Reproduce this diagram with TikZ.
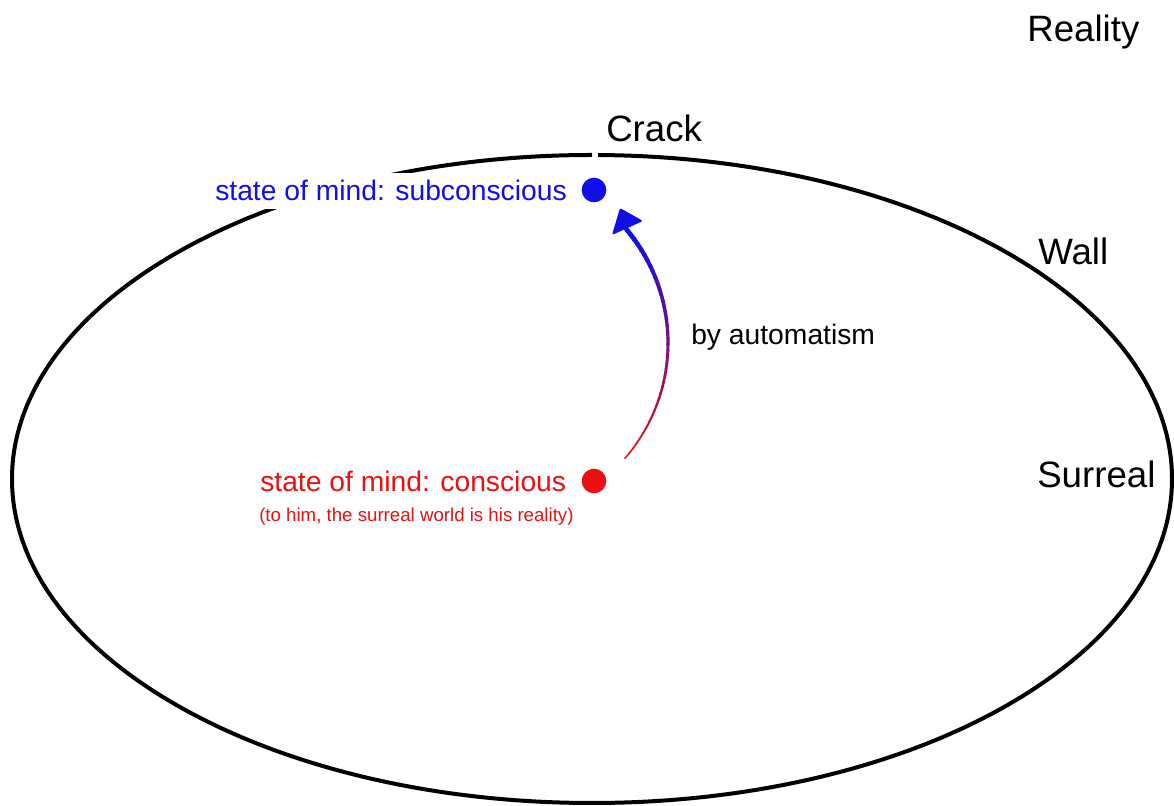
\documentclass[tikz,border=0pt]{standalone}
\usepackage{fontspec}
\setmainfont{Liberation Sans}
\definecolor{mindblue}{RGB}{15,15,235}
\definecolor{mindred}{RGB}{235,15,15}

\begin{document}
\begin{tikzpicture}[x=0.75pt,y=0.75pt,
  place/.style={font=\fontsize{27.5}{33}\selectfont,inner sep=0pt,anchor=base west},
  mindtext/.style={font=\fontsize{21.2}{25}\selectfont,inner sep=0pt,anchor=base west},
  note/.style={font=\fontsize{14}{17}\selectfont,inner sep=0pt,anchor=base west},
  mind/.style={circle,inner sep=0pt,minimum size=18.5pt}]
  \useasboundingbox (0,0) rectangle (1174,806);
  % the wall, with its crack on top
  \draw[line width=3pt] (592,651) arc[start angle=90,end angle=449.4,x radius=435pt,y radius=243pt];
  % outside / inside
  \node[place] (reality) at (1027,764) {Reality};
  \node[place] (crack) at (606,664) {Crack};
  \node[place] (wall) at (1038,541) {Wall};
  \node[place] (surreal) at (1037,318) {Surreal};
  % states of mind
  \node[mind,fill=mindblue] (sub) at (594,616) {};
  \node[mind,fill=mindred] (con) at (594,325) {};
  \node[mindtext,text=mindblue,fill=white,inner ysep=6pt] (sublabel) at (215,605) {state of mind: subconscious};
  \node[mindtext,text=mindred] (conlabel) at (260,314) {state of mind: conscious};
  \node[note,text=mindred] (connote) at (259,284) {(to him, the surreal world is his reality)};
  % by automatism (red to blue)
  \coordinate (bend) at (492,463);
  \coordinate (tip) at (620,598);
  \foreach \i in {0,...,39}{
    \pgfmathsetmacro{\a}{-41+2.025*\i}
    \pgfmathsetmacro{\b}{\a+2.2}
    \pgfmathsetmacro{\p}{100*\i/39}
    \pgfmathsetmacro{\w}{1.1+2.4*\i/39}
    \draw[line width=\w pt,line cap=round,mindblue!\p!mindred] ([shift={(\a:132pt)}]bend) arc[start angle=\a,end angle=\b,radius=132pt];
  }
  \fill[mindblue,rounded corners=1.5pt] (tip) -- ++(-8,-27) -- ++(31,14) -- cycle;
  \node[mindtext] (auto) at (691,461) {by automatism};
\end{tikzpicture}
\end{document}
